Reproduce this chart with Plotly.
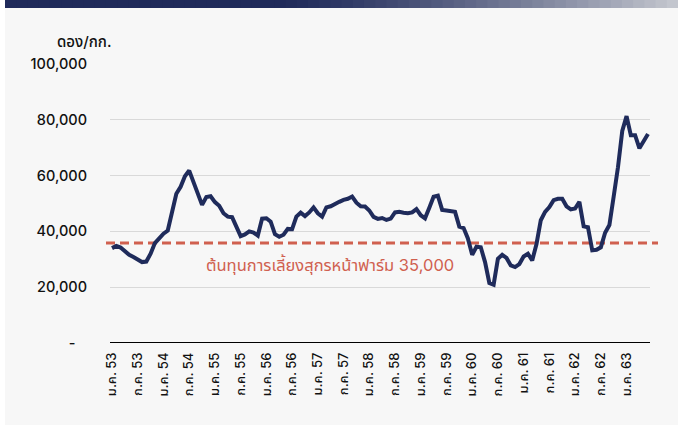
import plotly.graph_objects as go

# ---- data ----
years = [53, 54, 55, 56, 57, 58, 59, 60, 61, 62, 63]
tick_labels = []
for yy in years:
    tick_labels.append(f"ม.ค. {yy}")
    if yy != 63:
        tick_labels.append(f"ก.ค. {yy}")
tick_months = list(range(0, 121, 6))

price = [
    34000, 34800, 34200, 32800, 31600, 30800, 29800, 29000, 29200, 32000,
    35800, 37600, 39200, 40300, 46500, 53500, 56000, 59800, 61800, 57500,
    53500, 49500, 52300, 52600, 50500, 49200, 46500, 45300, 45100, 41500,
    38300, 38900, 40000, 39600, 38500, 44600, 44700, 43500, 39000, 38100,
    38800, 40900, 40800, 45300, 46700, 45500, 46800, 48600, 46500, 45300,
    48600, 49000, 50000, 50600, 51300, 51700, 52500, 50300, 49000, 48900,
    47500, 45200, 44500, 44800, 44100, 44600, 46800, 47000, 46700, 46500,
    46800, 48000, 45800, 44700, 48500, 52400, 52800, 47700, 47500, 47400,
    47000, 41700, 41200, 37500, 31600, 34500, 34300, 29000, 21500, 20900,
    30200, 31600, 30500, 27800, 27200, 28300, 31000, 32000, 29600, 35500,
    44000, 47000, 48700, 51200, 51700, 51700, 49000, 47900, 48200, 50600,
    41800, 41500, 33200, 33400, 34300, 39500, 42300, 52500, 63000, 76000,
    81300, 74500, 74500, 69800, 72500, 74900,
]
months = list(range(len(price)))

cost_level = 35800
cost_label = "ต้นทุนการเลี้ยงสุกรหน้าฟาร์ม 35,000"
y_unit = "ดอง/กก."
y_ticks = [0, 20000, 40000, 60000, 80000, 100000]
y_ticktext = ["-\u00a0\u00a0\u00a0", "20,000", "40,000", "60,000", "80,000", "100,000"]

# ---- figure ----
W, H = 678, 425
L, R, T, B = 110, 28, 64, 82
pw = W - L - R
ph = H - T - B

FONT = "Inter, Noto Sans Thai, Noto Sans, Liberation Sans, sans-serif"

fig = go.Figure()
fig.add_trace(go.Scatter(
    x=months, y=price, mode="lines",
    line=dict(color="#1f2b5b", width=4, shape="linear"),
    hoverinfo="skip", showlegend=False,
))

shapes = []
# left white strip
shapes.append(dict(type="rect", xref="paper", yref="paper",
                   x0=(0 - L) / pw, x1=(5 - L) / pw, y0=-2, y1=2,
                   fillcolor="white", line=dict(width=0), layer="below"))
# top gradient bar
n = 60
c0 = (31, 42, 90)
c1 = (195, 198, 206)
for k in range(n):
    t = k / (n - 1)
    tt = max(0.0, (t - 0.4) / 0.6) ** 1.3
    col = tuple(int(c0[j] + (c1[j] - c0[j]) * tt) for j in range(3))
    xa = 5 + (W - 5) * k / n
    xb = 5 + (W - 5) * (k + 1) / n + 1
    shapes.append(dict(type="rect", xref="paper", yref="paper",
                       x0=(xa - L) / pw, x1=(xb - L) / pw,
                       y0=1 + (T + 1) / ph, y1=1 + (T - 8) / ph,
                       fillcolor="rgb(%d,%d,%d)" % col, line=dict(width=0)))
# cost dashed line
shapes.append(dict(type="line", xref="paper", yref="y",
                   x0=(106 - L) / pw, x1=(658 - L) / pw,
                   y0=cost_level, y1=cost_level,
                   line=dict(color="#d0604f", width=3, dash="9px,5px"), layer="below"))
# baseline
shapes.append(dict(type="line", xref="paper", yref="y", x0=0, x1=1, y0=0, y1=0,
                   line=dict(color="black", width=2)))

fig.update_layout(
    width=W, height=H,
    margin=dict(l=L, r=R, t=T, b=B, autoexpand=False),
    paper_bgcolor="#f7f7f7", plot_bgcolor="#f7f7f7",
    font=dict(family=FONT, color="#111111"),
    shapes=shapes,
    xaxis=dict(range=[-0.47, 125.47], tickvals=tick_months, ticktext=tick_labels,
               tickangle=-90, showgrid=False, zeroline=False, showline=False,
               ticks="", ticklabelstandoff=6,
               tickfont=dict(size=13, color="#111111", weight=500)),
    yaxis=dict(range=[0, 100000], tickvals=y_ticks, ticktext=y_ticktext,
               showgrid=True, gridcolor="#d9d9d9", gridwidth=1.2, zeroline=False,
               showline=False, ticks="", ticklabelstandoff=22,
               tickfont=dict(size=14.5, color="#111111", weight=500)),
    annotations=[
        dict(text=y_unit, xref="paper", yref="paper", x=(114 - L) / pw, y=1 + (T - 42) / ph,
             xanchor="right", yanchor="middle", showarrow=False,
             font=dict(size=15, color="#111111", weight=500)),
        dict(text=cost_label, xref="paper", yref="y", x=(330 - L) / pw, y=cost_level,
             yshift=-21, xanchor="center", yanchor="middle", showarrow=False,
             font=dict(size=16.5, color="#d0604f")),
    ],
)

fig.write_html("out.html", config={"displayModeBar": False},
               post_script="document.body.style.margin='0';document.body.style.background='#f7f7f7';")
